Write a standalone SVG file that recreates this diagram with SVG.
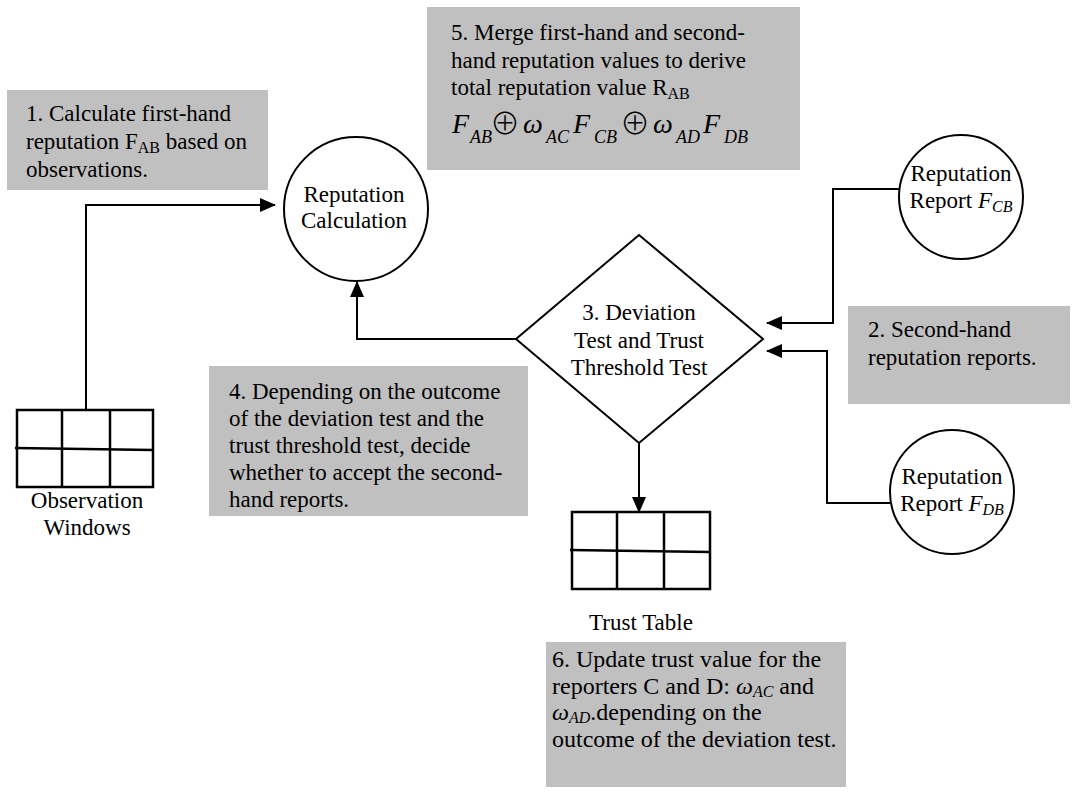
<svg xmlns="http://www.w3.org/2000/svg" width="1080" height="798" viewBox="0 0 1080 798" font-family="'Liberation Serif', 'Times New Roman', serif">
  <style>
    .note { fill: #c0c0c0; stroke: none; }
    .txt { font-family: "Liberation Serif", "Times New Roman", serif; font-size: 23px; fill: #000; }
    .f24 { font-size: 24px; }
    .f28 { font-size: 28px; }
    .sub { font-size: 16px; }
    .sub18 { font-size: 18px; }
    .mid { text-anchor: middle; }
    .it { font-style: italic; }
    .op { font-style: normal; font-family: "Noto Sans CJK JP", "DejaVu Sans", sans-serif; font-weight: 300; font-size: 30px; text-anchor: middle; }
    .shape { fill: #fff; stroke: #000; stroke-width: 2; }
    .grid { fill: none; stroke: #000; stroke-width: 2.5; }
    .conn { fill: none; stroke: #000; stroke-width: 2; }
  </style>
  <defs>
    <marker id="arrow" markerUnits="userSpaceOnUse" markerWidth="16" markerHeight="14" refX="15" refY="7" orient="auto">
      <path d="M0,0 L16,7 L0,14 Z" fill="#000"/>
    </marker>
  </defs>
  <rect width="1080" height="798" fill="#fff"/>

  <!-- annotation boxes -->
  <g id="note1">
    <rect class="note" x="7" y="90" width="261" height="100"/>
    <text class="txt" x="26" y="121">1. Calculate first-hand</text>
    <text class="txt" x="26" y="149">reputation F<tspan class="sub" dy="4">AB</tspan><tspan dy="-4"> based on</tspan></text>
    <text class="txt" x="26" y="177">observations.</text>
  </g>

  <g id="note5">
    <rect class="note" x="427" y="7" width="373" height="163"/>
    <text class="txt" x="451" y="40">5. Merge first-hand and second-</text>
    <text class="txt" x="451" y="68">hand reputation values to derive</text>
    <text class="txt" x="451" y="95">total reputation value R<tspan class="sub" dy="4">AB</tspan></text>
    <text class="txt it f28" x="452" y="133">F</text>
    <text class="txt it sub18" x="470" y="143">AB</text>
    <text class="txt op" x="505" y="134">⊕</text>
    <text class="txt it f28" x="523" y="133">ω</text>
    <text class="txt it sub18" x="546" y="143">AC</text>
    <text class="txt it f28" x="573" y="133">F</text>
    <text class="txt it sub18" x="594" y="143">CB</text>
    <text class="txt op" x="635" y="134">⊕</text>
    <text class="txt it f28" x="653" y="133">ω</text>
    <text class="txt it sub18" x="676" y="143">AD</text>
    <text class="txt it f28" x="703" y="133">F</text>
    <text class="txt it sub18" x="724" y="143">DB</text>
  </g>

  <g id="note2">
    <rect class="note" x="848" y="306" width="222" height="98"/>
    <text class="txt" x="868" y="337">2. Second-hand</text>
    <text class="txt" x="868" y="365">reputation reports.</text>
  </g>

  <g id="note4">
    <rect class="note" x="209" y="366" width="319" height="150"/>
    <text class="txt" x="229" y="399">4. Depending on the outcome</text>
    <text class="txt" x="229" y="426">of the deviation test and the</text>
    <text class="txt" x="229" y="453">trust threshold test, decide</text>
    <text class="txt" x="229" y="480">whether to accept the second-</text>
    <text class="txt" x="229" y="507">hand reports.</text>
  </g>

  <g id="note6">
    <rect class="note" x="546" y="642" width="300" height="145"/>
    <text class="txt f24" x="552" y="667">6. Update trust value for the</text>
    <text class="txt f24" x="552" y="694">reporters C and D: <tspan class="it">ω</tspan><tspan class="it sub" dy="3">AC</tspan><tspan dy="-3"> and</tspan></text>
    <text class="txt f24" x="552" y="720"><tspan class="it">ω</tspan><tspan class="it sub" dy="3">AD</tspan><tspan dy="-3">.depending on the</tspan></text>
    <text class="txt f24" x="552" y="747">outcome of the deviation test.</text>
  </g>

  <!-- connectors -->
  <g id="connectors">
    <path class="conn" d="M86,410 V205 H275" marker-end="url(#arrow)"/>
    <path class="conn" d="M516,339 H357 V282" marker-end="url(#arrow)"/>
    <path class="conn" d="M900,189 H833 V323 H767" marker-end="url(#arrow)"/>
    <path class="conn" d="M890,503 H827 V351 H767" marker-end="url(#arrow)"/>
    <path class="conn" d="M639,443 V512" marker-end="url(#arrow)"/>
  </g>

  <!-- process nodes -->
  <g id="reputation-calculation">
    <circle class="shape" cx="356" cy="209" r="72"/>
    <text class="txt mid" x="354" y="202">Reputation</text>
    <text class="txt mid" x="354" y="228">Calculation</text>
  </g>

  <g id="deviation-test">
    <polygon class="shape" points="639,235 763,339 639,443 516,339"/>
    <text class="txt mid" x="639" y="320">3. Deviation</text>
    <text class="txt mid" x="639" y="348">Test and Trust</text>
    <text class="txt mid" x="639" y="375">Threshold Test</text>
  </g>

  <g id="report-cb">
    <circle class="shape" cx="961" cy="197" r="62"/>
    <text class="txt mid" x="961" y="181">Reputation</text>
    <text class="txt mid" x="961" y="208">Report <tspan class="it">F</tspan><tspan class="it sub" dy="4">CB</tspan></text>
  </g>

  <g id="report-db">
    <circle class="shape" cx="952" cy="492" r="62"/>
    <text class="txt mid" x="952" y="484">Reputation</text>
    <text class="txt mid" x="952" y="511">Report <tspan class="it">F</tspan><tspan class="it sub" dy="4">DB</tspan></text>
  </g>

  <!-- data tables -->
  <g id="observation-windows">
    <rect class="grid" x="17" y="410" width="136" height="77"/>
    <line class="grid" x1="15" y1="448" x2="153" y2="450"/>
    <line class="grid" x1="62" y1="410" x2="62" y2="488"/>
    <line class="grid" x1="110" y1="410" x2="110" y2="487"/>
    <text class="txt mid" x="87" y="508">Observation</text>
    <text class="txt mid" x="87" y="535">Windows</text>
  </g>

  <g id="trust-table">
    <rect class="grid" x="572" y="512" width="138" height="77"/>
    <line class="grid" x1="570" y1="550" x2="710" y2="552"/>
    <line class="grid" x1="617" y1="512" x2="617" y2="590"/>
    <line class="grid" x1="664" y1="512" x2="664" y2="589"/>
    <text class="txt mid" x="641" y="630">Trust Table</text>
  </g>
</svg>
